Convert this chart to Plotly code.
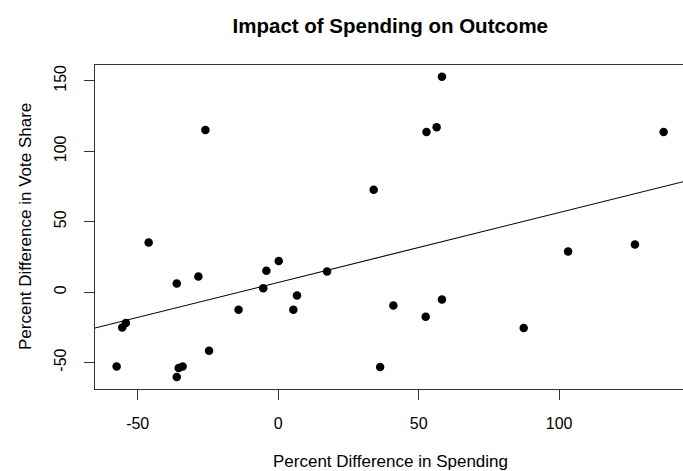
import plotly.graph_objects as go

# Data
spending = [-57.5, -55.5, -54.2, -46.1, -36.1, -36.1, -35.4, -34.0, -28.4, -25.9,
            -24.6, -14.1, -5.3, -4.2, 0.2, 5.4, 6.7, 17.4, 34.0, 36.3,
            41.0, 52.5, 52.8, 56.4, 58.3, 58.3, 87.4, 103.2, 127.0, 137.2]
vote_share = [-52.8, -25.1, -22.0, 35.2, 6.1, -60.3, -53.9, -52.8, 11.1, 115.1,
              -41.6, -12.6, 2.8, 15.1, 22.0, -12.6, -2.4, 14.6, 72.6, -53.2,
              -9.5, -17.5, 113.7, 117.0, 152.9, -5.2, -25.5, 28.8, 33.8, 113.7]

# Fitted regression line
fit_intercept = 6.85
fit_slope = 0.496

x_ticks = [-50, 0, 50, 100]
y_ticks = [-50, 0, 50, 100, 150]

x_range = [-65.2, 144.1]
y_range = [-68.8, 161.2]

FONT = "Liberation Sans, Arial, Helvetica, sans-serif"

W, H = 683, 471
L, R, T, B = 95, 0, 65, 82
PW, PH = W - L - R, H - T - B

line_x = [x_range[0] - 10, x_range[1] + 10]
line_y = [fit_intercept + fit_slope * v for v in line_x]

fig = go.Figure()
fig.add_trace(go.Scatter(
    x=spending, y=vote_share, mode="markers",
    marker=dict(color="black", size=8.5, line=dict(width=0)),
    showlegend=False, hoverinfo="x+y"))
fig.add_trace(go.Scatter(
    x=line_x, y=line_y, mode="lines",
    line=dict(color="black", width=1.1),
    showlegend=False, hoverinfo="skip"))

fig.update_layout(
    width=W, height=H,
    margin=dict(l=L, r=R, t=T, b=B, autoexpand=False),
    paper_bgcolor="white", plot_bgcolor="white",
    font=dict(family=FONT, size=16, color="black"),
    title=dict(text="<b>Impact of Spending on Outcome</b>",
               x=(95 + 685.6) / 2 / W, xanchor="center",
               y=1 - 26 / H, yanchor="middle",
               font=dict(family=FONT, size=20.5, color="black")),
    xaxis=dict(range=x_range, tickvals=x_ticks, ticktext=[str(v) for v in x_ticks],
               showgrid=False, zeroline=False,
               showline=True, linecolor="#333333", linewidth=1, mirror=True,
               ticks="outside", ticklen=10, tickcolor="#333333", tickwidth=1,
               ticklabelstandoff=10,
               tickfont=dict(size=16, color="black")),
    yaxis=dict(range=y_range, tickvals=y_ticks, ticktext=[str(v) for v in y_ticks],
               showgrid=False, zeroline=False,
               showline=True, linecolor="#333333", linewidth=1, mirror=False,
               ticks="outside", ticklen=10, tickcolor="#333333", tickwidth=1,
               tickangle=-90, ticklabelstandoff=12,
               tickfont=dict(size=16, color="black")),
    annotations=[
        dict(text="Percent Difference in Spending", xref="paper", yref="paper",
             x=(390.5 - L) / PW, y=(T + PH - 462) / PH,
             xanchor="center", yanchor="middle", showarrow=False,
             font=dict(family=FONT, size=17, color="black")),
        dict(text="Percent Difference in Vote Share", xref="paper", yref="paper",
             x=(25 - L) / PW, y=0.5, textangle=-90,
             xanchor="center", yanchor="middle", showarrow=False,
             font=dict(family=FONT, size=17, color="black")),
    ],
)

fig.write_html("out.html", config={"displayModeBar": False},
               post_script="document.body.style.margin='0px';")
